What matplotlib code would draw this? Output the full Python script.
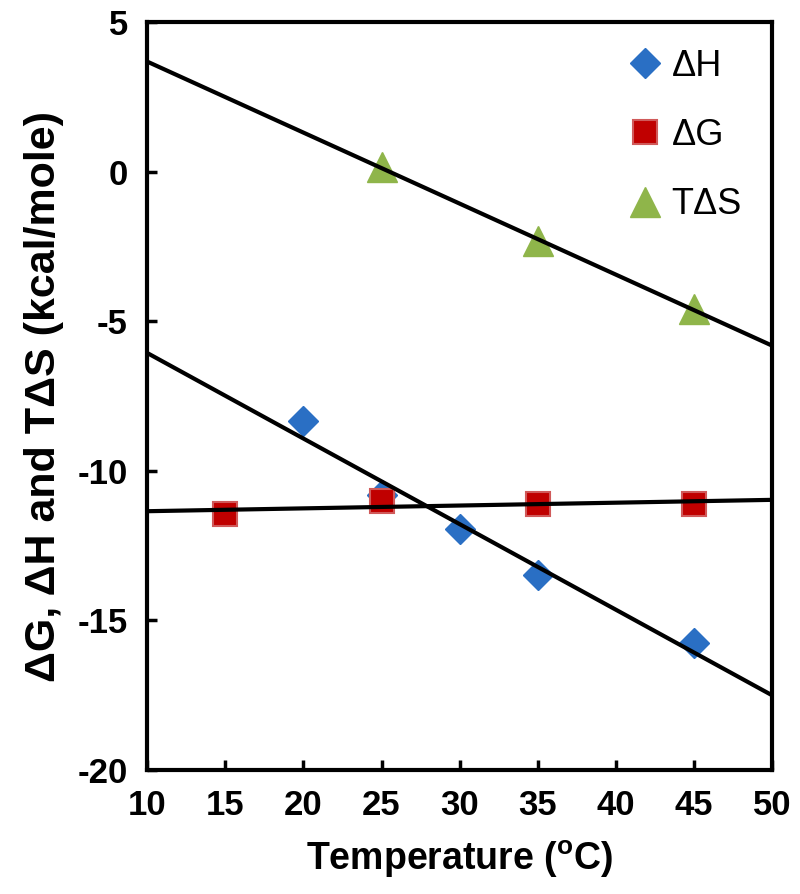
import numpy as np
import matplotlib.pyplot as plt

plt.rcParams['font.family'] = ['Liberation Sans', 'DejaVu Sans']
plt.rcParams['axes.unicode_minus'] = False
plt.rcParams['mathtext.fontset'] = 'custom'
plt.rcParams['mathtext.bf'] = 'Liberation Sans:bold'
plt.rcParams['mathtext.rm'] = 'Liberation Sans'

# values (kcal/mole vs temperature in C)
temp_h = [20, 25, 30, 35, 45]
dH = [-8.35, -10.8, -11.95, -13.5, -15.75]
temp_g = [15, 25, 35, 45]
dG = [-11.45, -11.0, -11.1, -11.1]
temp_s = [25, 35, 45]
TdS = [0.15, -2.3, -4.6]

x_ticks = [10, 15, 20, 25, 30, 35, 40, 45, 50]
y_ticks = [5, 0, -5, -10, -15, -20]

fig = plt.figure(figsize=(8, 8.94), dpi=100)
ax = fig.add_axes([0.184, 0.139, 0.781, 0.836])

ax.plot(temp_h, dH, 'D', color='#2a6fc4', markersize=15, markeredgecolor='#2a6fc4',
        label='\u0394H', zorder=2)
ax.plot(temp_g, dG, 's', color='#c00000', markersize=17, markeredgecolor='#d05a5a',
        markeredgewidth=1.5, label='\u0394G', zorder=2)
ax.plot(temp_s, TdS, '^', color='#8fb54a', markersize=21, markeredgecolor='#8fb54a',
        label='T\u0394S', zorder=2)

# linear trendlines extended across the full x range
xs = np.array([10, 50])
for tx, ty in [(temp_h, dH), (temp_g, dG), (temp_s, TdS)]:
    k, b = np.polyfit(tx, ty, 1)
    ax.plot(xs, k * xs + b, color='black', lw=3.0, zorder=3)

ax.set_xlim(10, 50)
ax.set_ylim(-20, 5)
ax.set_xticks(x_ticks)
ax.set_yticks(y_ticks)
ax.tick_params(direction='in', length=7, width=2.5, pad=14)
ax.tick_params(axis='y', labelsize=25)
ax.tick_params(axis='x', labelsize=25)
for lab in ax.get_xticklabels() + ax.get_yticklabels():
    lab.set_fontweight('bold')
for sp in ax.spines.values():
    sp.set_linewidth(3)

ax.set_xlabel('Temperature ($^{\\mathbf{o}}$C)', fontsize=27, fontweight='bold',
              labelpad=12)
ax.set_ylabel('\u0394G, \u0394H and T\u0394S (kcal/mole)', fontsize=31, fontweight='bold',
              labelpad=10)

ax.legend(loc='upper right', frameon=False, fontsize=26, labelspacing=0.95,
          handletextpad=0.15, handlelength=1.2, borderaxespad=0.0,
          bbox_to_anchor=(0.975, 0.984))

fig.savefig('out.png', dpi=100)
